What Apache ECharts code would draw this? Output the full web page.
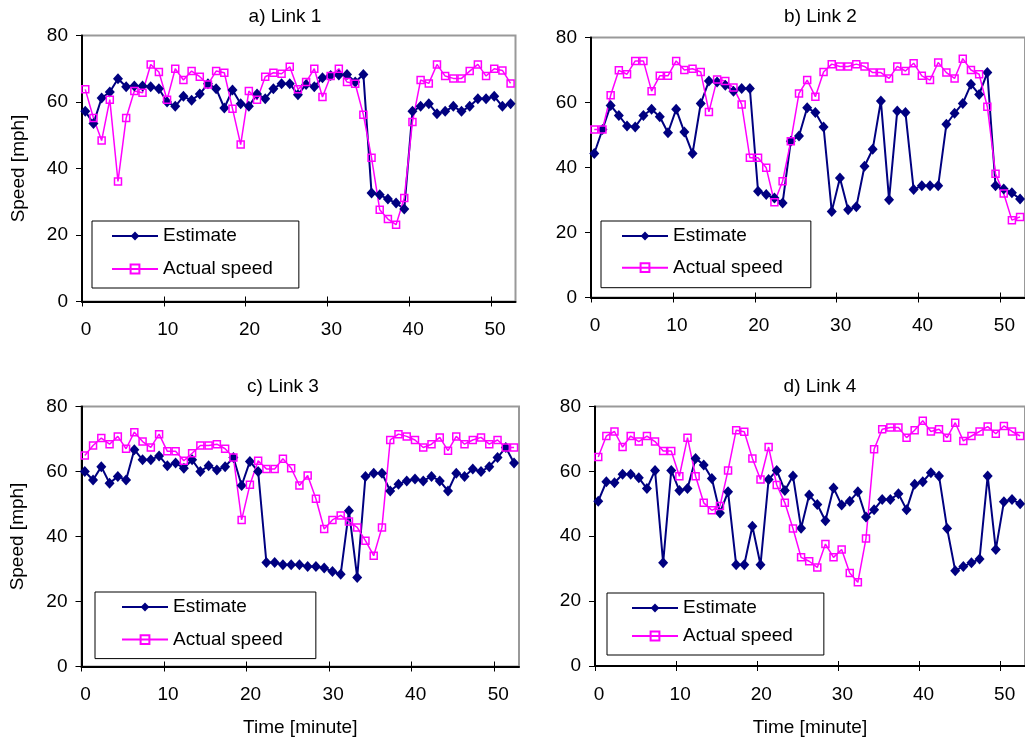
<!DOCTYPE html>
<html>
<head>
<meta charset="utf-8">
<script src="https://cdn.jsdelivr.net/npm/echarts@6/dist/echarts.min.js"></script>
<style>
  html, body { margin: 0; padding: 0; background: #fff; }
  #chart { width: 1025px; height: 746px; }
</style>
</head>
<body>
<div id="chart"></div>
<script>
let chart = echarts.init(document.getElementById('chart'));

// time of each sample [minute]
let times = [0.4, 1.4, 2.4, 3.4, 4.4, 5.4, 6.4, 7.4, 8.4, 9.4,
    10.4, 11.4, 12.4, 13.4, 14.4, 15.4, 16.4, 17.4, 18.4, 19.4,
    20.4, 21.4, 22.4, 23.4, 24.4, 25.4, 26.4, 27.4, 28.4, 29.4,
    30.4, 31.4, 32.4, 33.4, 34.4, 35.4, 36.4, 37.4, 38.4, 39.4,
    40.4, 41.4, 42.4, 43.4, 44.4, 45.4, 46.4, 47.4, 48.4, 49.4,
    50.4, 51.4, 52.4];
let x_ticks = [0, 10, 20, 30, 40, 50];
let titles = ['a) Link 1', 'b) Link 2', 'c) Link 3', 'd) Link 4'];
let names = ['Estimate', 'Actual speed'];

// Link 1
let est1 = [57.2, 53.5, 61.2, 63, 67, 64.6, 64.8, 64.8, 64.6, 64,
    60, 58.7, 61.7, 60.5, 62.4, 65.5, 64, 58.2, 63.6, 59.5,
    58.7, 62.4, 61, 64, 65.5, 65.5, 62.2, 65.3, 64.6, 67.3,
    68, 68.1, 68.3, 66, 68.3, 32.6, 32.1, 30.8, 29.6, 27.8,
    57.2, 58.7, 59.5, 56.5, 57.2, 58.7, 57.2, 58.7, 61, 61,
    61.7, 58.7, 59.5];
let act1 = [63.8, 55.2, 48.4, 60.7, 36.1, 55.2, 63.3, 62.8, 71.3, 69,
    60.7, 70, 66.6, 69.3, 67.6, 65.3, 69.3, 68.8, 58, 47.2,
    63.3, 60.7, 67.6, 68.8, 68.5, 70.6, 63.8, 66, 70, 61.5,
    67.8, 70, 66, 65.5, 56.2, 43.2, 27.6, 24.8, 23.1, 31.1,
    54, 66.6, 65.6, 71.3, 67.8, 67.1, 67.1, 69.3, 71.3, 67.8,
    70, 69.5, 65.6];

// Link 2
let est2 = [44.3, 51.7, 59.1, 56, 52.8, 52.5, 56, 57.9, 55.6, 50.7,
    57.9, 50.9, 44.3, 59.7, 66.6, 66.3, 65.3, 63.5, 64.3, 64.3,
    32.7, 31.7, 30.6, 29.1, 48.1, 49.7, 58.4, 56.9, 52.5, 26.5,
    36.8, 27, 27.9, 40.4, 45.6, 60.5, 30.1, 57.4, 56.9, 33.2,
    34.4, 34.4, 34.4, 53.3, 56.7, 59.7, 65.6, 62.5, 69.2, 34.4,
    33.4, 32.2, 30.3];
let act2 = [51.7, 51.7, 62.2, 69.9, 68.7, 72.8, 72.8, 63.5, 68.2, 68.2,
    72.8, 70, 70.4, 69.4, 57.1, 67.1, 66.6, 64.6, 59.4, 43,
    43, 39.9, 29.3, 35.8, 48.1, 62.8, 66.9, 61.8, 69.4, 71.8,
    71.1, 71.1, 71.8, 71.1, 69.2, 69.2, 67.4, 71.1, 69.7, 72.1,
    68.2, 66.9, 72.3, 69.2, 67.4, 73.5, 70, 68.7, 58.7, 38.1,
    32, 23.8, 24.8];

// Link 3
let est3 = [60, 57.4, 61.5, 56.4, 58.5, 57.4, 66.7, 63.6, 63.6, 64.8,
    61.8, 62.6, 61, 63.6, 60, 61.8, 60.5, 61.5, 64.3, 55.7,
    63.1, 60, 32, 32, 31.3, 31.3, 31.3, 30.8, 30.8, 30.3,
    29.2, 28.4, 47.9, 27.4, 58.5, 59.5, 59.5, 54, 56.1, 57.1,
    57.7, 57.1, 58.5, 57.1, 54, 59.5, 58.5, 60.8, 60, 61.5,
    64.3, 67.4, 62.6];
let act3 = [64.9, 68, 70.3, 68.4, 70.8, 67, 72.1, 69.2, 67.4, 71.5,
    66.2, 66.2, 63.3, 65.6, 68, 68, 68.4, 67, 64.3, 45.1,
    55.9, 63.3, 60.8, 60.8, 63.9, 61, 55.7, 58.8, 51.6, 42.3,
    45.1, 46.5, 44.6, 42.8, 38.7, 34.1, 42.8, 69.7, 71.5, 70.8,
    69.7, 67.4, 68.4, 70.5, 66.4, 70.8, 68.4, 69.7, 70.5, 68.4,
    69.7, 67.4, 67.4];

// Link 4
let est4 = [50.8, 56.8, 56.5, 59.1, 59.1, 58, 54.7, 60.3, 31.8, 60.3,
    54.1, 54.7, 64, 62, 57.8, 47.2, 53.7, 31.2, 31.2, 43.1,
    31.2, 57.5, 60.3, 54.1, 58.6, 42.5, 52.7, 49.8, 44.8, 54.9,
    49.6, 50.8, 53.7, 45.9, 48.2, 51.3, 51.3, 53.1, 48.2, 56,
    56.8, 59.6, 58.6, 42.4, 29.4, 30.7, 31.8, 33, 58.6, 35.9,
    50.6, 51.3, 50];
let act4 = [64.4, 70.9, 72.3, 67.5, 70.9, 69.2, 70.9, 69.2, 66.3, 66.3,
    58.5, 70.4, 58.5, 50.3, 48, 49.3, 60.3, 72.7, 72.2, 64,
    57.5, 67.5, 55.8, 50.3, 42.4, 33.5, 32.3, 30.4, 37.6, 33.5,
    35.9, 28.7, 25.8, 39.3, 66.8, 73, 73.5, 73.5, 70.4, 72.7,
    75.6, 72.3, 73, 70.4, 75, 69.4, 70.9, 72.3, 73.8, 71.6,
    74, 72.3, 70.9];

let estimates = [est1, est2, est3, est4];
let actuals = [act1, act2, act3, act4];

let FONT = 'Liberation Sans';
let FS = 19;

// layout of the 4 panels
let layout = [
    {grid: {left: 82, top: 35.5, width: 433.5, height: 266}, title: [285, 7.5],
        legend: {left: 92, top: 221, padding: [4, 26, 8, 19], gap: 11}, yName: true, xName: false},
    {grid: {left: 591, top: 37.5, width: 438, height: 260}, title: [820.5, 7.5],
        legend: {left: 601, top: 221, padding: [4, 28, 9, 20], gap: 9.7}, yName: false, xName: false},
    {grid: {left: 81.5, top: 406.5, width: 437.5, height: 260}, title: [283, 377],
        legend: {left: 95, top: 592, padding: [4, 33, 8, 26], gap: 10.6}, yName: true, xName: true},
    {grid: {left: 595, top: 406.5, width: 435, height: 259.5}, title: [820, 377],
        legend: {left: 607, top: 593, padding: [4, 31, 8, 24], gap: 6}, yName: false, xName: true}
];

function pairs(values) {
    return times.map((t, k) => [t, values[k]]);
}

let option = {
    animation: false,
    backgroundColor: '#fff',
    textStyle: {fontFamily: FONT},
    title: [],
    legend: [],
    grid: [],
    xAxis: [],
    yAxis: [],
    series: []
};

layout.forEach((p, i) => {
    option.title.push({
        text: titles[i],
        left: p.title[0],
        top: p.title[1],
        textAlign: 'center',
        padding: 0,
        textStyle: {fontFamily: FONT, fontSize: FS, fontWeight: 'normal', color: '#000'}
    });

    option.legend.push({
        orient: 'vertical',
        left: p.legend.left,
        top: p.legend.top,
        padding: p.legend.padding,
        itemGap: p.legend.gap,
        itemWidth: 46,
        itemHeight: 11,
        data: names,
        selectedMode: false,
        backgroundColor: '#fff',
        borderColor: '#000',
        borderWidth: 1,
        textStyle: {fontFamily: FONT, fontSize: FS, color: '#000', lineHeight: 22}
    });

    option.grid.push(Object.assign({
        show: true,
        borderColor: '#999',
        borderWidth: 2,
        backgroundColor: 'transparent'
    }, p.grid));

    // main time axis
    option.xAxis.push({
        type: 'value',
        gridIndex: i,
        min: 0,
        max: 53,
        position: 'bottom',
        name: p.xName ? 'Time [minute]' : '',
        nameLocation: 'middle',
        nameGap: 52,
        nameTextStyle: {fontFamily: FONT, fontSize: FS, color: '#000'},
        axisLine: {show: true, onZero: false, lineStyle: {color: '#000', width: 2}},
        axisTick: {show: true, length: 5, customValues: x_ticks, lineStyle: {color: '#000', width: 1}},
        axisLabel: {customValues: x_ticks, margin: 19, padding: [0, 0, 0, 8],
            fontFamily: FONT, fontSize: FS, color: '#000'},
        splitLine: {show: false}
    });
    // upper half of the crossing ticks
    option.xAxis.push({
        type: 'value',
        gridIndex: i,
        min: 0,
        max: 53,
        position: 'top',
        offset: -p.grid.height,
        axisLine: {show: false, onZero: false},
        axisTick: {show: true, length: 5, customValues: x_ticks, lineStyle: {color: '#000', width: 1}},
        axisLabel: {show: false},
        splitLine: {show: false}
    });

    option.yAxis.push({
        type: 'value',
        gridIndex: i,
        min: 0,
        max: 80,
        interval: 20,
        name: p.yName ? 'Speed [mph]' : '',
        nameLocation: 'middle',
        nameGap: 54,
        nameTextStyle: {fontFamily: FONT, fontSize: FS, color: '#000'},
        axisLine: {show: true, onZero: false, lineStyle: {color: '#000', width: 2}},
        axisTick: {show: true, length: 6, lineStyle: {color: '#000', width: 1}},
        axisLabel: {margin: 14, fontFamily: FONT, fontSize: FS, color: '#000'},
        splitLine: {show: false}
    });

    option.series.push({
        name: names[0],
        type: 'line',
        xAxisIndex: i * 2,
        yAxisIndex: i,
        data: pairs(estimates[i]),
        symbol: 'diamond',
        symbolSize: [10, 11],
        lineStyle: {color: '#000080', width: 2},
        itemStyle: {color: '#000080'},
        emphasis: {disabled: true}
    });
    option.series.push({
        name: names[1],
        type: 'line',
        xAxisIndex: i * 2,
        yAxisIndex: i,
        data: pairs(actuals[i]),
        symbol: 'rect',
        symbolSize: 7,
        lineStyle: {color: '#ff00ff', width: 1.5},
        itemStyle: {color: 'rgba(255,255,255,0)', borderColor: '#ff00ff', borderWidth: 1.5},
        emphasis: {disabled: true}
    });
});

chart.setOption(option);
</script>
</body>
</html>
